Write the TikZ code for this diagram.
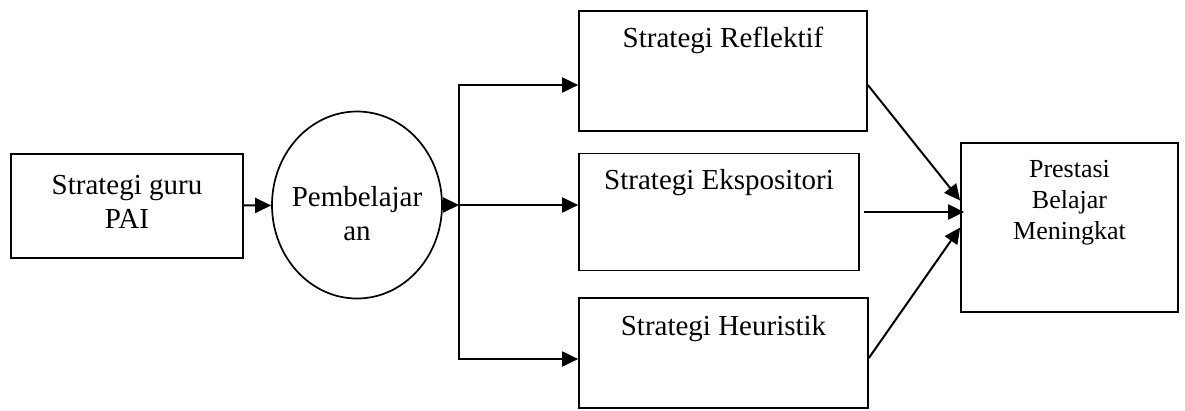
\documentclass[tikz,border=0pt]{standalone}
\usepackage{fontspec}
\setmainfont{Liberation Serif}
\usepackage{tikz}
\usetikzlibrary{arrows.meta,shapes.geometric}
\tikzset{
    plain-box/.style = {draw=black, fill=white, line width=1.7pt, rectangle, inner sep=0pt},
    plain-circle/.style = {draw=black, fill=white, line width=1.7pt, ellipse, inner sep=0pt, minimum width=170pt, minimum height=187pt},
    box-text/.style = {anchor=center, align=center, font=\fontsize{29}{34}\selectfont},
    box-title/.style = {anchor=base, yshift=-37pt, font=\fontsize{29}{34}\selectfont},
    flow-arrow/.style = {line width=2pt, -{Triangle[length=16pt,width=15pt]}},
}

\begin{document}
\begin{tikzpicture}[x=1pt,y=-1pt]
\useasboundingbox (0,0) rectangle (1185,410);
\node [plain-box, minimum width=232pt, minimum height=104pt, label={[box-text, yshift=4pt]center:Strategi guru\\PAI}] (guru) at (127,206) {};
\node [plain-circle, label={[box-text, yshift=-9pt]center:Pembelajar\\an}] (pembelajaran) at (357,205) {};
\node [plain-box, minimum width=288pt, minimum height=120pt, label={[box-title]north:Strategi Reflektif}] (reflektif) at (723,71) {};
\node [plain-box, minimum width=280pt, minimum height=117pt, label={[box-title]north:Strategi Ekspositori}] (ekspositori) at (719,212) {};
\node [plain-box, minimum width=289pt, minimum height=110pt, label={[box-title, yshift=-1pt]north:Strategi Heuristik}] (heuristik) at (723.5,353) {};
\node [plain-box, minimum width=217pt, minimum height=169pt, label={[anchor=north, yshift=-15pt, align=center, font=\fontsize{26}{31}\selectfont]north:Prestasi\\Belajar\\Meningkat}] (prestasi) at (1069.5,227.5) {};

\coordinate (split) at (459,205);
\draw [flow-arrow] (guru) -- (pembelajaran);
\draw [flow-arrow] (pembelajaran) -- (split);
\draw [flow-arrow] (split) |- ([yshift=-14pt]reflektif.west);
\draw [flow-arrow] (split) -- (split -| ekspositori.west);
\draw [flow-arrow] (split) |- ([yshift=-6pt]heuristik.west);

% into the result box
\draw [flow-arrow] ([yshift=-14pt]reflektif.east) -- ([yshift=27pt]prestasi.west);
\draw [flow-arrow] ([xshift=4pt]ekspositori.east) -- ([xshift=4pt]ekspositori.east -| prestasi.west);
\draw [flow-arrow] ([yshift=-5pt]heuristik.east) -- (prestasi.west);
\end{tikzpicture}
\end{document}
